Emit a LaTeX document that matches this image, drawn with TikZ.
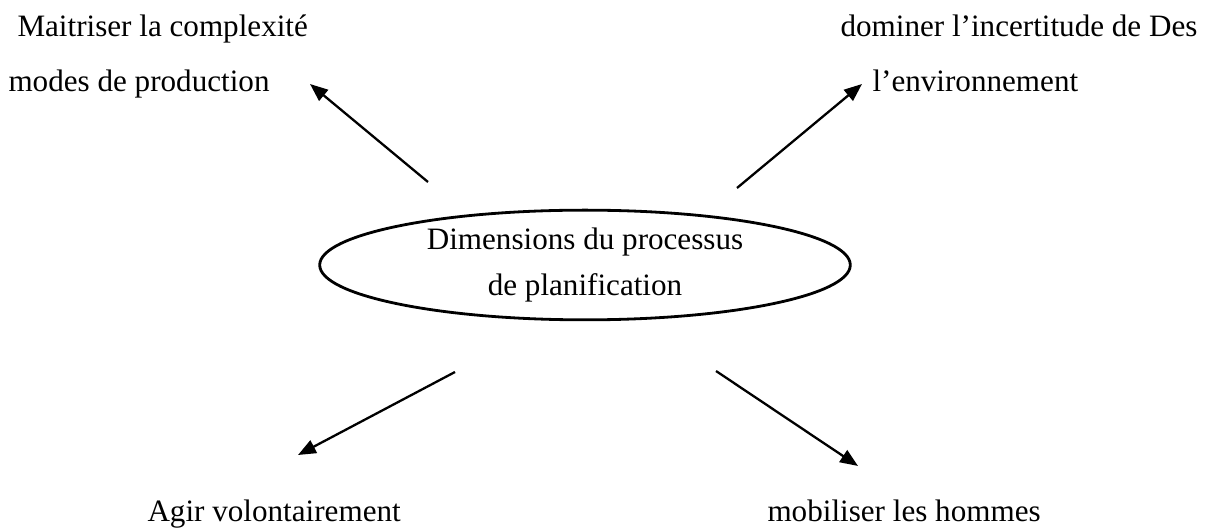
\documentclass[tikz,border=0pt]{standalone}
\usepackage{fontspec}
\setmainfont{Liberation Serif}
\usetikzlibrary{arrows.meta,shapes.geometric}

\begin{document}
\begin{tikzpicture}[x=0.392pt,y=-0.392pt]
\tikzset{
  centernode/.style={ellipse,draw,line width=1.1pt,minimum width=208pt,minimum height=43pt,
    inner sep=0pt,align=center,font=\fontsize{12.2}{18}\selectfont},
  textnode/.style={inner sep=0pt,font=\fontsize{12.2}{14}\selectfont},
  directed/.style={-{Triangle[length=7pt,width=5.5pt]},line width=0.9pt}
}
\useasboundingbox (0,0) rectangle (1213,529);
\node[centernode] (n_dim) at (585,265) {Dimensions du processus\\de planification};
\node[textnode,anchor=base west] (n_cx1) at (17,37) {Maitriser la complexité};
\node[textnode,anchor=base west] (n_cx2) at (8,92) {modes de production};
\node[textnode,anchor=base west] (n_in1) at (840,37) {dominer l’incertitude de Des};
\node[textnode,anchor=base west] (n_in2) at (872,92) {l’environnement};
\node[textnode,anchor=base west] (n_ag) at (147,522) {Agir volontairement};
\node[textnode,anchor=base west] (n_mo) at (767,522) {mobiliser les hommes};
\coordinate (a_cx) at (428,182);
\coordinate (t_cx) at (310,84);
\coordinate (a_in) at (737,188);
\coordinate (t_in) at (862,84);
\coordinate (a_ag) at (455,372);
\coordinate (t_ag) at (298,455);
\coordinate (a_mo) at (716,371);
\coordinate (t_mo) at (858,466);
\draw[directed] (a_cx) -- (t_cx);
\draw[directed] (a_in) -- (t_in);
\draw[directed] (a_ag) -- (t_ag);
\draw[directed] (a_mo) -- (t_mo);
\end{tikzpicture}
\end{document}
